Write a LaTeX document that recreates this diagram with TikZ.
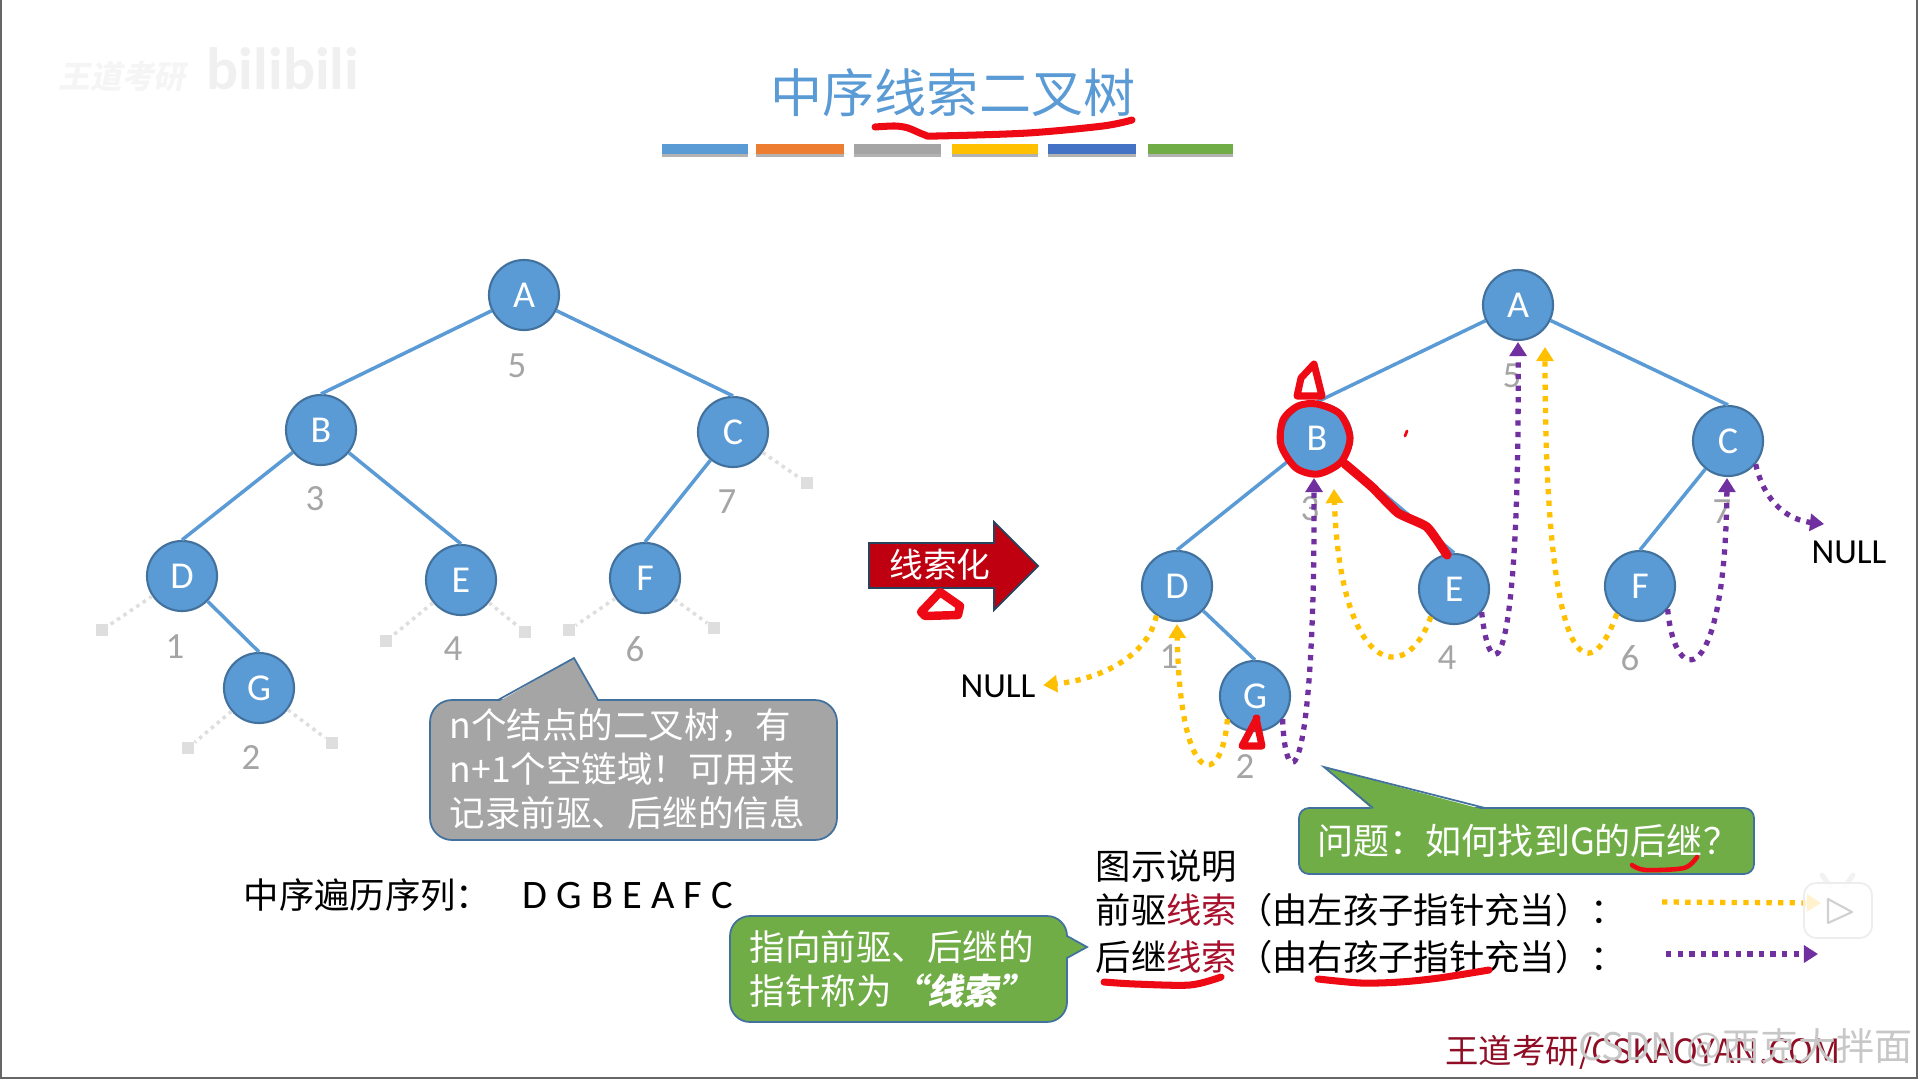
\documentclass[tikz,border=0pt]{standalone}
\usepackage{fontspec}
\setmainfont{Noto Sans CJK SC}[BoldFeatures={FakeSlant=0.2}]
\newfontfamily\latfont{Carlito}
\usetikzlibrary{
	arrows.meta,
	positioning,
	shapes.geometric
}
\definecolor{lanse}{HTML}{5B9BD5}
\definecolor{lanbian}{HTML}{41719C}
\definecolor{huangse}{HTML}{FFC000}
\definecolor{zise}{HTML}{7030A0}
\definecolor{lvse}{HTML}{70AD47}
\definecolor{huise}{HTML}{A5A5A5}
\definecolor{chengse}{HTML}{ED7D31}
\definecolor{shenlan}{HTML}{4472C4}
\definecolor{dahong}{HTML}{BE0010}
\definecolor{hongbi}{HTML}{EE0A14}
\definecolor{anhong}{HTML}{A8102C}
\begin{document}
\begin{tikzpicture}[
			x=0.01cm, y=-0.01cm,
			jd/.style={circle, draw=lanbian, line width=0.6pt, fill=lanse, minimum size=0.7cm, inner sep=0pt, text=white, font=\latfont\fontsize{10.8}{10.8}\selectfont},
			bian/.style={draw=lanse, line width=1pt},
			kong/.style={rectangle, fill=black!13, minimum size=0.12cm, inner sep=0pt},
			kongx/.style={draw=black!13, line width=1pt, dash pattern=on 1pt off 1.2pt},
			xuhao/.style={text=huise, inner sep=0pt, font=\latfont\fontsize{10.5}{10.5}\selectfont},
			nullz/.style={inner sep=0pt, font=\latfont\fontsize{10}{10}\selectfont},
			qian/.style={draw=huangse, line width=1.5pt, dash pattern=on 1.5pt off 1.8pt, -{Triangle[length=4pt,width=4.8pt]}},
			hou/.style={draw=zise, line width=1.5pt, dash pattern=on 1.5pt off 1.8pt, -{Triangle[length=4pt,width=4.8pt]}},
			kuang/.style={draw=lanbian, line width=0.5pt},
			baizi/.style={text=white, align=left, anchor=west, inner sep=0pt, font=\fontsize{10.1}{12.4}\selectfont},
			heizi/.style={align=left, anchor=west, inner sep=0pt, font=\fontsize{10.05}{10}\selectfont},
			hongxian/.style={draw=hongbi, line width=2pt, line cap=round, line join=round}
		]
		\useasboundingbox (0,0) rectangle (1919,1079);

		% frame of the slide
		\draw[black!60, line width=0.5pt] (1,0) -- (1,1078) -- (1917,1078) -- (1917,0);

		% title
		\node[text=lanse, inner sep=0pt, font=\fontsize{14.8}{14.8}\selectfont] (biaoti) at (953,93) {中序线索二叉树};
		\fill[black!30] (662,147) rectangle (748,157);
		\fill[black!30] (756,147) rectangle (844,157);
		\fill[black!30] (854,147) rectangle (941,157);
		\fill[black!30] (952,147) rectangle (1038,157);
		\fill[black!30] (1048,147) rectangle (1136,157);
		\fill[black!30] (1148,147) rectangle (1233,157);
		\fill[lanse] (662,144) rectangle (748,154);
		\fill[chengse] (756,144) rectangle (844,154);
		\fill[huise] (854,144) rectangle (941,154);
		\fill[huangse] (952,144) rectangle (1038,154);
		\fill[shenlan] (1048,144) rectangle (1136,154);
		\fill[lvse] (1148,144) rectangle (1233,154);
		\node[text=black!4, inner sep=0pt, font=\bfseries\fontsize{9}{9}\selectfont] (wm1) at (122,77) {王道考研};
		\node[text=black!6, inner sep=0pt, font=\latfont\bfseries\fontsize{17}{17}\selectfont] (wm2) at (283,69) {bilibili};

		% left tree
		\node[jd] (A) at (524,295) {A};
		\node[jd] (B) at (321,430) {B};
		\node[jd] (C) at (733,432) {C};
		\node[jd] (D) at (182,576) {D};
		\node[jd] (E) at (461,580) {E};
		\node[jd] (F) at (645,578) {F};
		\node[jd] (G) at (259,688) {G};
		\draw[bian] (A) -- (B.north);
		\draw[bian] (A) -- (C.north);
		\draw[bian] (B) -- (D.north);
		\draw[bian] (B) -- (E.north);
		\draw[bian] (C) -- (F.north);
		\draw[bian] (D) -- (G.north);

		\node[kong] (Dz) at (102,630) {};
		\node[kong] (Gz) at (188,748) {};
		\node[kong] (Gy) at (332,743) {};
		\node[kong] (Ez) at (386,641) {};
		\node[kong] (Ey) at (525,632) {};
		\node[kong] (Fz) at (569,630) {};
		\node[kong] (Fy) at (714,628) {};
		\node[kong] (Cy) at (807,483) {};
		\draw[kongx] (D) -- (Dz);
		\draw[kongx] (G) -- (Gz);
		\draw[kongx] (G) -- (Gy);
		\draw[kongx] (E) -- (Ez);
		\draw[kongx] (E) -- (Ey);
		\draw[kongx] (F) -- (Fz);
		\draw[kongx] (F) -- (Fy);
		\draw[kongx] (C) -- (Cy);

		\node[xuhao] (n5) at (517,366) {5};
		\node[xuhao] (n3) at (315,499) {3};
		\node[xuhao] (n7) at (727,502) {7};
		\node[xuhao] (n1) at (175,647) {1};
		\node[xuhao] (n4) at (453,649) {4};
		\node[xuhao] (n6) at (635,649) {6};
		\node[xuhao] (n2) at (251,758) {2};

		% grey note
		\filldraw[fill=huise, kuang, rounded corners=0.22cm] (430,700) rectangle (837,840);
		\fill[huise] (598,702) -- (574,658) -- (498,702) -- cycle;
		\draw[kuang] (598,700) -- (574,658) -- (498,700);
		\node[baizi] (kongyu) at (449,769) {n个结点的二叉树，有\\n+1个空链域！可用来\\记录前驱、后继的信息};

		\node[heizi] (xulie) at (243,895) {中序遍历序列：\hspace{9pt}{\latfont\fontsize{11.5}{10}\selectfont D G B E A F C}};

		% big arrow
		\filldraw[fill=dahong, draw=lanbian!60!black, line width=0.5pt] (869,543) -- (994,543) -- (994,522) -- (1038,566) -- (994,610) -- (994,588) -- (869,588) -- cycle;
		\node[text=white, inner sep=0pt, font=\fontsize{9.6}{9.6}\selectfont] (xsh) at (940,565) {线索化};

		% right tree
		\node[jd] (rA) at (1518,305) {A};
		\node[jd] (rB) at (1317,438) {B};
		\node[jd] (rC) at (1728,441) {C};
		\node[jd] (rD) at (1177,586) {D};
		\node[jd] (rE) at (1454,589) {E};
		\node[jd] (rF) at (1640,586) {F};
		\node[jd] (rG) at (1255,696) {G};
		\draw[bian] (rA) -- (rB.north);
		\draw[bian] (rA) -- (rC.north);
		\draw[bian] (rB) -- (rD.north);
		\draw[bian] (rB) -- (rE.north);
		\draw[bian] (rC) -- (rF.north);
		\draw[bian] (rD) -- (rG.north);

		\node[xuhao] (m5) at (1512,376) {5};
		\node[xuhao] (m3) at (1310,509) {3};
		\node[xuhao] (m7) at (1722,512) {7};
		\node[xuhao] (m1) at (1169,657) {1};
		\node[xuhao] (m4) at (1447,658) {4};
		\node[xuhao] (m6) at (1630,658) {6};
		\node[xuhao] (m2) at (1245,767) {2};

		\node[nullz] (nullz) at (998,686) {NULL};
		\node[nullz] (nully) at (1849,552) {NULL};

		\coordinate (tD) at (1177,624);
		\coordinate (tB) at (1334,489);
		\coordinate (tA) at (1545,347);
		\coordinate (uB) at (1314,478);
		\coordinate (uA) at (1518,342);
		\coordinate (uC) at (1727,478);
		\coordinate (uN) at (1824,524);

		% threads
		\draw[qian, shorten >=2pt] (rD.-125) .. controls (1150,650) and (1110,678) .. (nullz.east);
		\draw[qian] (rG.-140) .. controls (1222,790) and (1180,790) .. (tD);
		\draw[qian] (rE.-130) .. controls (1405,690) and (1340,670) .. (tB);
		\draw[qian] (rF.-130) .. controls (1590,690) and (1545,680) .. (tA);
		\draw[hou] (rG.-40) .. controls (1285,795) and (1315,800) .. (uB);
		\draw[hou] (rE.-40) .. controls (1490,690) and (1520,690) .. (uA);
		\draw[hou] (rF.-40) .. controls (1675,690) and (1725,690) .. (uC);
		\draw[hou] (rC.-40) .. controls (1765,505) and (1790,520) .. (uN);

		% question note
		\filldraw[fill=lvse, kuang, rounded corners=0.1cm] (1299,808) rectangle (1754,874);
		\fill[lvse] (1373,810) -- (1324,767) -- (1485,810) -- cycle;
		\draw[kuang] (1373,808) -- (1324,767) -- (1485,808);
		\node[baizi, font=\fontsize{10.25}{12.4}\selectfont] (wenti) at (1317,841) {问题：如何找到G的后继？};

		% thread note
		\filldraw[fill=lvse, kuang, rounded corners=0.2cm] (730,916) rectangle (1067,1022);
		\fill[lvse] (1065,936) -- (1087,947) -- (1065,958) -- cycle;
		\draw[kuang] (1067,936) -- (1087,947) -- (1067,958);
		\node[baizi] (xiansuo) at (749,969) {指向前驱、后继的\\指针称为{\bfseries “线索”}};

		% legend
		\node[heizi] (tushi) at (1095,866) {图示说明};
		\node[heizi, below=0.09cm of tushi.south west, anchor=north west] (qianqu) {前驱{\color{anhong}线索}（由左孩子指针充当）：};
		\node[heizi, below=0.12cm of qianqu.south west, anchor=north west] (houji) {后继{\color{anhong}线索}（由右孩子指针充当）：};
		\coordinate (qm) at (1821,903);
		\coordinate (hm) at (1818,954);
		\coordinate (qs) at (1662,902);
		\coordinate (hs) at (1666,954);
		\draw[qian] (qs) -- (qm);
		\draw[hou] (hs) -- (hm);

		% play badge
		\draw[black!5, line width=1.4pt, line cap=round] (1822,875) -- (1830,886);
		\draw[black!5, line width=1.4pt, line cap=round] (1853,875) -- (1845,886);
		\filldraw[fill=white, fill opacity=0.8, draw=black!7, line width=0.5pt, rounded corners=0.12cm] (1804,883) rectangle (1872,938);
		\filldraw[fill=white, draw=black!18, line width=0.6pt, line join=round] (1828,899) -- (1852,912) -- (1828,923) -- cycle;

		% site name
		\node[text=anhong!85!black, inner sep=0pt, font=\fontsize{9.5}{9.5}\selectfont] (site) at (1643,1052) {王道考研/CSKAOYAN.COM};
		\node[text=black!22, inner sep=0pt, anchor=east, font=\fontsize{10.8}{10.8}\selectfont] (csdn) at (1913,1048) {CSDN @西克大拌面};

		% pen strokes
		\draw[hongxian] plot[smooth] coordinates {(875,127) (895,126) (908,128) (925,135) (937,136) (1028,133) (1103,126) (1132,120)};
		\draw[hongxian, line width=2.6pt] plot[smooth, tension=0.3] coordinates {(1345,464) (1372,487) (1398,513) (1427,527) (1447,555)};
		\draw[hongxian] plot[smooth cycle] coordinates {(1317,404) (1340,414) (1350,438) (1341,462) (1318,474) (1296,468) (1281,445) (1283,420) (1298,406)};
		\draw[hongxian] (1314,364) -- (1301,378) -- (1297,396) -- (1322,396) -- (1314,364);
		\draw[hongxian] (1257,718) -- (1242,746) -- (1262,746) -- (1256,718);
		\draw[hongxian, line width=2.4pt] (940,592) -- (921,612) -- (925,616) -- (958,615) -- (960,606) -- (940,592);
		\draw[hongxian, line width=0.8pt] (1407,431) -- (1405,436);
		\draw[hongxian, line width=1.3pt] plot[smooth] coordinates {(1632,865) (1645,870) (1684,868) (1697,857)};
		\draw[hongxian] plot[smooth] coordinates {(1104,982) (1135,984) (1190,985) (1221,977)};
		\draw[hongxian] plot[smooth] coordinates {(1318,979) (1361,983) (1400,982) (1439,978) (1489,970)};
	\end{tikzpicture}
\end{document}
